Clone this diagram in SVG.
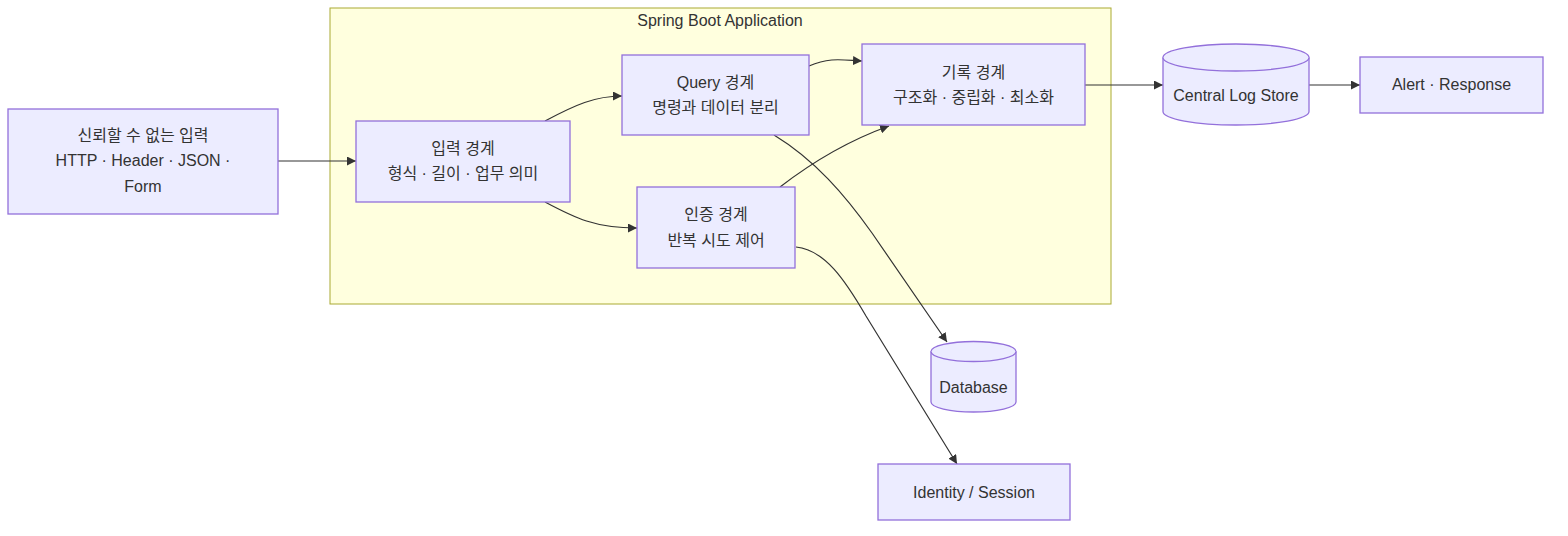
<svg xmlns="http://www.w3.org/2000/svg" width="1568" height="536" viewBox="0 0 1568 536">
<defs>
<style>
.node{fill:#ececff;stroke:#9370db;stroke-width:1.3}
.cluster{fill:#ffffde;stroke:#aaaa33;stroke-width:1}
.edge{fill:none;stroke:#333;stroke-width:1.2}
text{font-family:"Liberation Sans","Noto Sans CJK KR",sans-serif;font-size:16px;fill:#333;text-anchor:middle}
</style>
<marker id="arr" viewBox="0 0 10 10" refX="10" refY="5" markerWidth="9" markerHeight="9" markerUnits="userSpaceOnUse" orient="auto">
<path d="M0,0 L10,5 L0,10 z" fill="#333"/>
</marker>
</defs>
<rect width="1568" height="536" fill="#fff"/>
<g id="cluster-app">
<rect class="cluster" x="330" y="8" width="781" height="296"/>
<text x="720" y="26">Spring Boot Application</text>
</g>
<g id="connectors">
<path class="edge" marker-end="url(#arr)" d="M278,161 L356,161"/>
<path class="edge" marker-end="url(#arr)" d="M545,121 C575,105 595,96 622,96"/>
<path class="edge" marker-end="url(#arr)" d="M545,202 C575,218 595,228 637,228"/>
<path class="edge" marker-end="url(#arr)" d="M809,66 C830,57 842,60 862,61"/>
<path class="edge" marker-end="url(#arr)" d="M780,187 C815,160 850,140 889,126"/>
<path class="edge" marker-end="url(#arr)" d="M774,135 C815,160 845,195 872,233 L947,342"/>
<path class="edge" marker-end="url(#arr)" d="M796,247 C825,250 845,280 866,316 L957,464"/>
<path class="edge" marker-end="url(#arr)" d="M1085,85 L1163,85"/>
<path class="edge" marker-end="url(#arr)" d="M1309,85 L1360,85"/>
</g>
<g id="untrusted">
<rect class="node" x="8" y="109" width="270" height="105"/>
<text x="143" y="141">신뢰할 수 없는 입력</text>
<text x="143" y="166">HTTP · Header · JSON ·</text>
<text x="143" y="192">Form</text>
</g>
<g id="input">
<rect class="node" x="356" y="121" width="214" height="81"/>
<text x="463" y="154">입력 경계</text>
<text x="463" y="179">형식 · 길이 · 업무 의미</text>
</g>
<g id="query">
<rect class="node" x="622" y="55" width="187" height="80"/>
<text x="715.5" y="88">Query 경계</text>
<text x="715.5" y="113">명령과 데이터 분리</text>
</g>
<g id="auth">
<rect class="node" x="637" y="187" width="158" height="81"/>
<text x="716" y="220">인증 경계</text>
<text x="716" y="246">반복 시도 제어</text>
</g>
<g id="record">
<rect class="node" x="862" y="44" width="223" height="81"/>
<text x="973.5" y="78">기록 경계</text>
<text x="973.5" y="103">구조화 · 중립화 · 최소화</text>
</g>
<g id="central">
<path class="node" d="M1163,57.5 A73,13.5 0 0 1 1309,57.5 L1309,111.5 A73,13.5 0 0 1 1163,111.5 Z"/>
<path class="node" fill="none" d="M1163,57.5 A73,13.5 0 0 0 1309,57.5"/>
<text x="1236" y="101">Central Log Store</text>
</g>
<g id="alert">
<rect class="node" x="1360" y="57" width="183" height="56"/>
<text x="1451.5" y="90">Alert · Response</text>
</g>
<g id="database">
<path class="node" d="M931,351.5 A42.5,10 0 0 1 1016,351.5 L1016,402 A42.5,10 0 0 1 931,402 Z"/>
<path class="node" fill="none" d="M931,351.5 A42.5,10 0 0 0 1016,351.5"/>
<text x="973.5" y="393">Database</text>
</g>
<g id="identity">
<rect class="node" x="878" y="464" width="192" height="56"/>
<text x="974" y="498">Identity / Session</text>
</g>
</svg>
